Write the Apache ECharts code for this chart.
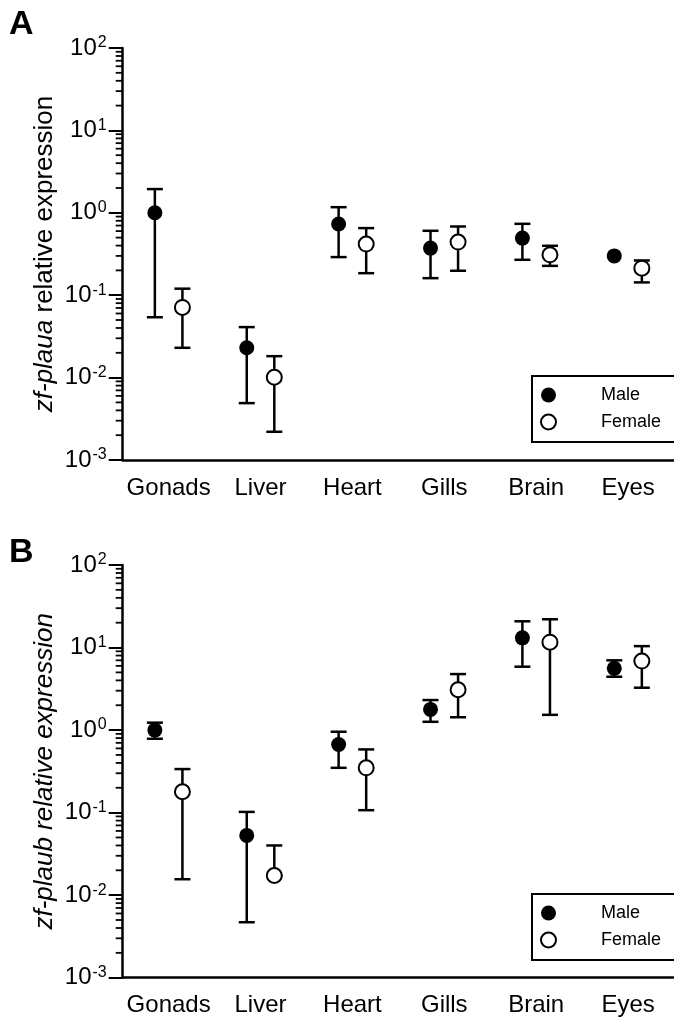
<!DOCTYPE html>
<html>
<head>
<meta charset="utf-8">
<script src="https://cdn.jsdelivr.net/npm/echarts@6/dist/echarts.min.js"></script>
<style>
html,body{margin:0;padding:0;background:#fff;}
#chart{width:674px;height:1018px;}
</style>
</head>
<body>
<div id="chart"></div>
<script>
// ---- data ----
const categories = ['Gonads', 'Liver', 'Heart', 'Gills', 'Brain', 'Eyes'];
const yTickExponents = [-3, -2, -1, 0, 1, 2];
const minorTickMultipliers = [2, 3, 4, 5, 6, 7, 8, 9];

// Panel A: zf-plaua
const plauaMale      = [1.0,   0.023,  0.73,  0.373, 0.493, 0.30];
const plauaMaleLow   = [0.054, 0.0049, 0.29,  0.161, 0.269, 0.30];
const plauaMaleHigh  = [1.94,  0.041,  1.17,  0.605, 0.735, 0.30];
const plauaFemale     = [0.071, 0.0101, 0.417, 0.441, 0.309, 0.213];
const plauaFemaleLow  = [0.023, 0.0022, 0.185, 0.198, 0.227, 0.143];
const plauaFemaleHigh = [0.12,  0.0182, 0.652, 0.682, 0.398, 0.264];

// Panel B: zf-plaub
const plaubMale      = [1.0,   0.053,  0.67,  1.78, 13.1, 5.6];
const plaubMaleLow   = [0.785, 0.0047, 0.349, 1.26, 5.86, 4.43];
const plaubMaleHigh  = [1.23,  0.102,  0.955, 2.31, 20.8, 7.0];
const plaubFemale     = [0.179,  0.0173, 0.349, 3.08, 11.6, 6.86];
const plaubFemaleLow  = [0.0156, 0.0173, 0.107, 1.43, 1.53, 3.26];
const plaubFemaleHigh = [0.337,  0.040,  0.583, 4.77, 22.0, 10.4];

// ---- layout / style ----
const FONT = 'Liberation Sans, Arial, sans-serif';
const OFFSET = 0.15;
const chart = echarts.init(document.getElementById('chart'), null, {renderer: 'canvas'});

function pts(vals, off) { return vals.map((v, i) => [i + off, v]); }
function bars(lo, hi, off) { return lo.map((l, i) => [i + off, l, hi[i]]); }

// minor tick positions (axis decoration): m * 10^e inside each decade
const minorTickValues = [];
yTickExponents.slice(0, -1).forEach(e => {
  minorTickMultipliers.forEach(m => minorTickValues.push([-0.5, m * Math.pow(10, e)]));
});

function errRender(params, api) {
  const x = api.value(0), lo = api.value(1), hi = api.value(2);
  if (lo === hi) return;
  const a = api.coord([x, hi]);
  const b = api.coord([x, lo]);
  const w = 8;
  const st = {stroke: '#000', lineWidth: 2.5};
  return {
    type: 'group',
    children: [
      {type: 'line', shape: {x1: a[0], y1: a[1], x2: b[0], y2: b[1]}, style: st},
      {type: 'line', shape: {x1: a[0] - w, y1: a[1], x2: a[0] + w, y2: a[1]}, style: st},
      {type: 'line', shape: {x1: b[0] - w, y1: b[1], x2: b[0] + w, y2: b[1]}, style: st}
    ]
  };
}

function minorRender(params, api) {
  const p = api.coord([api.value(0), api.value(1)]);
  return {type: 'line', shape: {x1: p[0] - 7, y1: p[1], x2: p[0], y2: p[1]},
          style: {stroke: '#000', lineWidth: 1.8}};
}

function yAxisFor(gi, name, nameStyle) {
  return {
    type: 'log', logBase: 10, gridIndex: gi, min: 0.001, max: 100,
    name: name, nameLocation: 'middle', nameGap: 65, nameMoveOverlap: false,
    nameTextStyle: nameStyle,
    axisLine: {show: true, onZero: false, lineStyle: {color: '#000', width: 2.5}},
    axisTick: {show: true, length: 14, lineStyle: {color: '#000', width: 2}},
    minorTick: {show: false},
    splitLine: {show: false},
    minorSplitLine: {show: false},
    axisLabel: {
      margin: 16, color: '#000', fontFamily: FONT,
      formatter: function (v) {
        const e = Math.round(Math.log10(v));
        if (yTickExponents.indexOf(e) < 0) return '';
        return '{b|10}{s|' + e + '}';
      },
      rich: {
        b: {fontSize: 24, fontFamily: FONT, color: '#000'},
        s: {fontSize: 16, fontFamily: FONT, color: '#000', verticalAlign: 'top', padding: [0, 0, 10, 1]}
      }
    }
  };
}

function catAxis(gi) {
  return {
    type: 'category', gridIndex: gi, data: categories,
    axisLine: {onZero: false, lineStyle: {color: '#000', width: 2.5}},
    axisTick: {alignWithLabel: true, length: 12, lineStyle: {color: '#000', width: 2}},
    axisLabel: {interval: 0, fontSize: 24, color: '#000', fontFamily: FONT, margin: 16}
  };
}
function valAxis(gi) {
  return {type: 'value', gridIndex: gi, min: -0.5, max: 5.5, show: false,
          axisLine: {onZero: false}};
}

function panelSeries(gi, m, mLo, mHi, f, fLo, fHi) {
  const xi = gi * 2 + 1;
  return [
    {type: 'custom', name: 'minor' + gi, xAxisIndex: xi, yAxisIndex: gi, renderItem: minorRender,
     data: minorTickValues, clip: false, z: 1, silent: true},
    {type: 'custom', name: 'errM' + gi, xAxisIndex: xi, yAxisIndex: gi, renderItem: errRender,
     data: bars(mLo, mHi, -OFFSET), encode: {x: 0, y: [1, 2]}, z: 2, silent: true},
    {type: 'custom', name: 'errF' + gi, xAxisIndex: xi, yAxisIndex: gi, renderItem: errRender,
     data: bars(fLo, fHi, OFFSET), encode: {x: 0, y: [1, 2]}, z: 2, silent: true},
    {type: 'scatter', name: 'Male', xAxisIndex: xi, yAxisIndex: gi, data: pts(m, -OFFSET),
     symbol: 'circle', symbolSize: 15, itemStyle: {color: '#000', opacity: 1}, z: 3},
    {type: 'scatter', name: 'Female', xAxisIndex: xi, yAxisIndex: gi, data: pts(f, OFFSET),
     symbol: 'circle', symbolSize: 15, itemStyle: {color: '#fff', borderColor: '#000', borderWidth: 2, opacity: 1}, z: 3}
  ];
}

function legendAt(top) {
  return {
    data: ['Male', 'Female'], orient: 'vertical', left: 532, top: top,
    icon: 'circle', itemWidth: 15, itemHeight: 15, itemGap: 9,
    borderColor: '#000', borderWidth: 2, padding: [10, 30, 11, 8],
    selectedMode: false,
    textStyle: {fontSize: 18, color: '#000', fontFamily: FONT, padding: [0, 0, 0, 40]}
  };
}

const option = {
  backgroundColor: '#fff',
  animation: false,
  title: [
    {text: 'A', left: 9, top: 8, padding: 0, textStyle: {fontSize: 34, fontWeight: 'bold', color: '#000', fontFamily: FONT}},
    {text: 'B', left: 9, top: 536, padding: 0, textStyle: {fontSize: 34, fontWeight: 'bold', color: '#000', fontFamily: FONT}}
  ],
  grid: [
    {left: 122.7, top: 48, width: 552, height: 412},
    {left: 122.7, top: 565, width: 552, height: 412.7}
  ],
  legend: [legendAt(376), legendAt(894)],
  xAxis: [catAxis(0), valAxis(0), catAxis(1), valAxis(1)],
  yAxis: [
    yAxisFor(0, '{i|zf-plaua} relative expression',
      {fontSize: 26, color: '#000', fontFamily: FONT,
       rich: {i: {fontStyle: 'italic', fontSize: 26, fontFamily: FONT, color: '#000'}}}),
    yAxisFor(1, 'zf-plaub relative expression',
      {fontSize: 26, color: '#000', fontFamily: FONT, fontStyle: 'italic'})
  ],
  series: [].concat(
    panelSeries(0, plauaMale, plauaMaleLow, plauaMaleHigh, plauaFemale, plauaFemaleLow, plauaFemaleHigh),
    panelSeries(1, plaubMale, plaubMaleLow, plaubMaleHigh, plaubFemale, plaubFemaleLow, plaubFemaleHigh)
  )
};
chart.setOption(option);
</script>
</body>
</html>
